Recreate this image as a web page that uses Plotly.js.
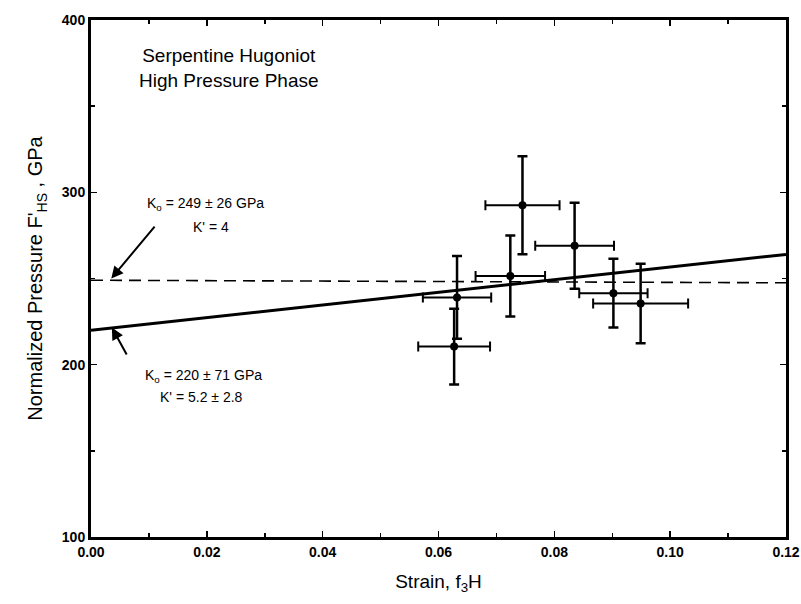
<!DOCTYPE html>
<html>
<head>
<meta charset="utf-8">
<script src="https://cdn.plot.ly/plotly-3.0.1.min.js"></script>
<style>html,body{margin:0;padding:0;background:#fff;}#chart{width:801px;height:604px;}</style>
</head>
<body>
<div id="chart"></div>
<script>
// Data
const strain = [0.0627, 0.0632, 0.0724, 0.0745, 0.0835, 0.0902, 0.0949];
const pressure = [210.5, 239, 251.5, 292.5, 269, 241.5, 235.5];
const strainErr = [0.0062, 0.0059, 0.0060, 0.0064, 0.0068, 0.0059, 0.0082];
const pressureErr = [22, 24, 23.5, 28.5, 25, 20, 23];

const fitX = [0, 0.12];
const fitSolid = [220, 264];   // Ko = 220, K' = 5.2
const fitDashed = [249, 247.5]; // Ko = 249, K' = 4

const xTickVals = [0, 0.02, 0.04, 0.06, 0.08, 0.10, 0.12];
const xTickText = ['0.00','0.02','0.04','0.06','0.08','0.10','0.12'];
const yTickVals = [100, 200, 300, 400];
const yTickText = ['100','200','300','400'];

const FONT = 'Liberation Sans, Arial, Helvetica, sans-serif';

const traces = [
  {x: fitX, y: fitDashed, mode: 'lines', line: {color: '#000', width: 1.6, dash: '12px,7px'}, hoverinfo: 'skip'},
  {x: fitX, y: fitSolid, mode: 'lines', line: {color: '#000', width: 3}, hoverinfo: 'skip'},
  {x: strain, y: pressure, mode: 'markers',
   marker: {color: '#000', size: 8},
   error_x: {type: 'data', array: strainErr, color: '#000', thickness: 2, width: 5},
   error_y: {type: 'data', array: pressureErr, color: '#000', thickness: 2.5, width: 5}}
];

const layout = {
  width: 801, height: 604,
  margin: {l: 91, r: 15, t: 20, b: 67},
  paper_bgcolor: '#fff', plot_bgcolor: '#fff',
  showlegend: false,
  font: {family: FONT, color: '#000'},
  xaxis: {
    range: [0, 0.12], tickvals: xTickVals,
    ticktext: xTickText.map(t => '<b>' + t + '</b>'),
    ticks: 'inside', ticklen: 6, tickwidth: 1.5, tickcolor: '#000',
    minor: {dtick: 0.01, ticks: 'inside', ticklen: 4, tickwidth: 1.5, tickcolor: '#000'},
    showline: true, linewidth: 3, linecolor: '#000', mirror: 'ticks',
    showgrid: false, zeroline: false,
    tickfont: {family: FONT, size: 14, color: '#000'},
    title: {text: 'Strain, f<sub>3</sub>H', font: {family: FONT, size: 19, color: '#000'}, standoff: 16}
  },
  yaxis: {
    range: [100, 400], tickvals: yTickVals,
    ticktext: yTickText.map(t => '<b>' + t + '</b>'),
    ticks: 'inside', ticklen: 6, tickwidth: 1.5, tickcolor: '#000',
    minor: {dtick: 50, ticks: 'inside', ticklen: 4, tickwidth: 1.5, tickcolor: '#000'},
    showline: true, linewidth: 3, linecolor: '#000', mirror: 'ticks',
    showgrid: false, zeroline: false,
    tickfont: {family: FONT, size: 14, color: '#000'},
    title: {text: "Normalized Pressure F'<sub>HS</sub> , GPa", font: {family: FONT, size: 20, color: '#000'}, standoff: 14}
  },
  annotations: [
    {x: 0.0238, y: 372, xref: 'x', yref: 'y', text: 'Serpentine Hugoniot<br>High Pressure Phase', showarrow: false,
     font: {family: FONT, size: 19, color: '#000'}, align: 'center'},
    {x: 0.0198, y: 293, xref: 'x', yref: 'y', text: 'K<sub>o</sub> = 249 ± 26 GPa', showarrow: false,
     font: {family: FONT, size: 14, color: '#000'}},
    {x: 0.0207, y: 280, xref: 'x', yref: 'y', text: "K' = 4", showarrow: false,
     font: {family: FONT, size: 14, color: '#000'}},
    {x: 0.0195, y: 193.5, xref: 'x', yref: 'y', text: 'K<sub>o</sub> = 220 ± 71 GPa', showarrow: false,
     font: {family: FONT, size: 14, color: '#000'}},
    {x: 0.0190, y: 181, xref: 'x', yref: 'y', text: "K' = 5.2 ± 2.8", showarrow: false,
     font: {family: FONT, size: 14, color: '#000'}},
    {x: 0.0035, y: 250, ax: 0.0112, ay: 281, xref: 'x', yref: 'y', axref: 'x', ayref: 'y', text: '',
     showarrow: true, arrowhead: 2, arrowsize: 1.2, arrowwidth: 2, arrowcolor: '#000'},
    {x: 0.0036, y: 221.5, ax: 0.0063, ay: 205, xref: 'x', yref: 'y', axref: 'x', ayref: 'y', text: '',
     showarrow: true, arrowhead: 2, arrowsize: 1.2, arrowwidth: 2, arrowcolor: '#000'}
  ]
};

Plotly.newPlot('chart', traces, layout, {displayModeBar: false, staticPlot: true});
</script>
</body>
</html>
